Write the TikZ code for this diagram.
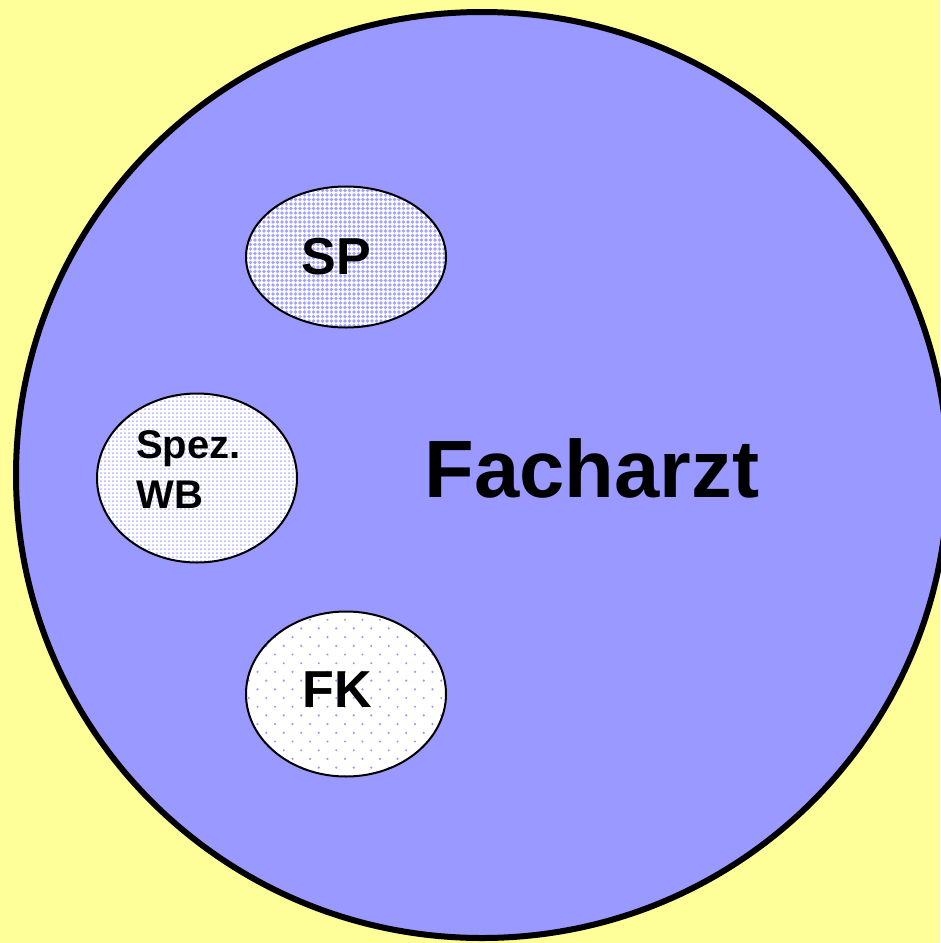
\documentclass[tikz,border=0pt]{standalone}
\usepackage{fontspec}
\setmainfont{Liberation Sans}
\usetikzlibrary{shapes, positioning}
\definecolor{fond}{HTML}{FFFF99}
\definecolor{bleu}{HTML}{9999FF}

\begin{document}
\begin{tikzpicture}[x=0.75pt, y=-0.75pt]

	\tikzstyle{grand}=[ellipse, draw, line width=4.5pt, fill=bleu, minimum width=699pt, minimum height=694.5pt]
	\tikzstyle{petit}=[ellipse, draw, line width=1.5pt, minimum width=150pt, inner sep=0pt]
	\tikzstyle{gros}=[font=\fontsize{39}{47}\selectfont\bfseries, anchor=base]
	\tikzstyle{titre}=[font=\fontsize{61}{70}\selectfont\bfseries, anchor=base]

	% fond
	\fill[fond] (0,0) rectangle (940,943);
	\useasboundingbox (0,0) rectangle (940,943);

	% grand cercle
	\node[grand] (fach) at (482,475) {};
	\node[titre] (nomfach) at (592,497) {Facharzt};

	% remplissage SP : points serres
	\begin{scope}
	\clip (346,257) ellipse [x radius=100, y radius=70.5];
	\fill[white] (246,186) rectangle (446,328);
	\foreach \x in {246,250.5,...,450}
	  \foreach \y in {186,190.5,...,330}
	    \fill[bleu!90!white] (\x,\y) circle [radius=1.35pt];
	\end{scope}

	% remplissage Spez. WB : petits points
	\begin{scope}
	\clip (197,478) ellipse [x radius=100, y radius=84.5];
	\fill[white] (97,393) rectangle (297,563);
	\foreach \x in {97,101,...,300}
	  \foreach \y in {393,397,...,565}
	    \fill[bleu!80!white] (\x,\y) circle [radius=0.75pt];
	\end{scope}

	% remplissage FK : points espaces
	\begin{scope}
	\clip (346,694) ellipse [x radius=100, y radius=82.5];
	\fill[white] (246,611) rectangle (446,777);
	\foreach \y [count=\k] in {611,619.7,...,780}
	  \foreach \x in {240,257.5,...,450}
	    \fill[bleu] ({\x+mod(\k,2)*8.75},\y) circle [radius=0.9pt];
	\end{scope}

	% placement des noeuds
	\node[petit, minimum height=105.75pt] (sp) at (346,257) {};
	\node[petit, minimum height=126.75pt] (wb) at (197,478) {};
	\node[petit, minimum height=123.75pt] (fk) at (346,694) {};

	% textes
	\node[gros] (nomsp) at (336,274) {SP};
	\node[font=\fontsize{30}{38}\selectfont\bfseries, align=left, anchor=north west, inner sep=0pt] (nomwb) at (136,430) {Spez.\\WB};
	\node[gros] (nomfk) at (337,707) {FK};

\end{tikzpicture}
\end{document}
